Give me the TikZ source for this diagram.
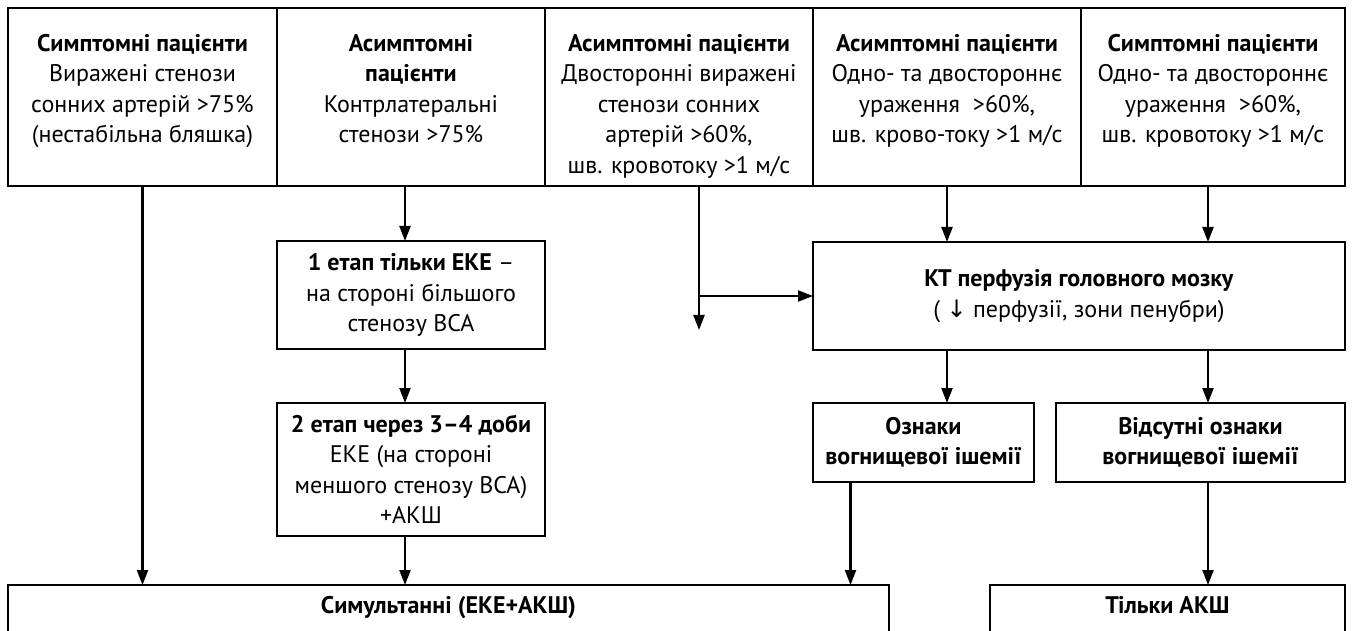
\documentclass[tikz,border=0pt]{standalone}
\usepackage{fontspec}
\setmainfont{PT Sans}
\newfontfamily\arrowfont{DejaVu Sans}
\usetikzlibrary{positioning,arrows.meta}

\tikzset{
  box/.style={draw, line width=2.4pt, outer sep=0pt, inner sep=0pt, anchor=north west},
  txt/.style={align=center, inner sep=0pt, font=\fontsize{24}{30.5}\selectfont},
  arr/.style={-{Triangle[length=15pt,width=11pt]}, line width=2.2pt},
}

\begin{document}
\begin{tikzpicture}[x=1pt,y=1pt]
\path[use as bounding box, clip] (0,0) rectangle (1353,-631);

% top row
\node[box, minimum width=269pt, minimum height=178pt] (t1) at (8,-8) {};
\node[box, minimum width=268pt, minimum height=178pt, right=0pt of t1] (t2) {};
\node[box, minimum width=268pt, minimum height=178pt, right=0pt of t2] (t3) {};
\node[box, minimum width=268pt, minimum height=178pt, right=0pt of t3] (t4) {};
\node[box, minimum width=264pt, minimum height=178pt, right=0pt of t4] (t5) {};

\node[txt, below=26pt of t1.north] (t1txt) {\textbf{Симптомні пацієнти}\\Виражені стенози\\сонних артерій >75\%\\(нестабільна бляшка)};
\node[txt, below=26pt of t2.north] (t2txt) {\textbf{Асимптомні}\\\textbf{пацієнти}\\Контрлатеральні\\стенози >75\%};
\node[txt, below=26pt of t3.north] (t3txt) {\textbf{Асимптомні пацієнти}\\Двосторонні виражені\\стенози сонних\\артерій >60\%,\\шв. кровотоку >1 м/с};
\node[txt, below=26pt of t4.north] (t4txt) {\textbf{Асимптомні пацієнти}\\Одно- та двостороннє\\ураження~ >60\%,\\шв. крово-току >1 м/с};
\node[txt, below=26pt of t5.north] (t5txt) {\textbf{Симптомні пацієнти}\\Одно- та двостороннє\\ураження~ >60\%,\\шв. кровотоку >1 м/с};

% middle
\node[box, txt, minimum width=268pt, minimum height=108pt, below=55pt of t2] (e1) {\textbf{1 етап тільки ЕКЕ} –\\на стороні більшого\\стенозу ВСА};
\node[box, txt, minimum width=268pt, minimum height=133pt, below=54pt of e1] (e2) {\textbf{2 етап через 3–4 доби}\\ЕКЕ (на стороні\\меншого стенозу ВСА)\\+АКШ};
\node[box, txt, minimum width=532pt, minimum height=108pt] (kt) at (813,-242) {\textbf{КТ перфузія головного мозку}\\( {\arrowfont ↓} перфузії, зони пенубри)};
\node[box, txt, minimum width=221pt, minimum height=79pt] (oz) at (813,-403) {\textbf{Ознаки}\\\textbf{вогнищевої ішемії}};
\node[box, txt, minimum width=289pt, minimum height=79pt] (vid) at (1056,-403) {\textbf{Відсутні ознаки}\\\textbf{вогнищевої ішемії}};

% bottom
\node[box, txt, minimum width=881pt, inner ysep=11pt, text depth=60pt] (sim) at (8,-585) {\textbf{Симультанні (ЕКЕ+АКШ)}};
\node[box, txt, minimum width=355pt, inner ysep=11pt, text depth=60pt] (tak) at (990,-585) {\textbf{Тільки АКШ}};

\coordinate (t3end) at ([xshift=20pt,yshift=-144pt]t3.south);

\draw[arr] (t1.south) -- (t1.south |- sim.north);
\draw[arr] ([xshift=-6pt]t2.south) -- ([xshift=-6pt]e1.north);
\draw[arr] ([xshift=-6pt]e1.south) -- ([xshift=-6pt]e2.north);
\draw[arr] ([xshift=-6pt]e2.south) -- ([xshift=-6pt]e2.south |- sim.north);
\draw[arr] ([xshift=20pt]t3.south) -- (t3end);
\draw[arr] (t3end |- kt.west) -- (kt.west);
\draw[arr] (t4.south) -- (t4.south |- kt.north);
\draw[arr] ([xshift=-5pt]t5.south) -- ([xshift=-5pt]t5.south |- kt.north);
\draw[arr] (kt.south -| t4.south) -- (oz.north -| t4.south);
\draw[arr] ([xshift=-5pt]kt.south -| t5.south) -- ([xshift=-5pt]vid.north -| t5.south);
\draw[arr] ([xshift=-73pt]oz.south) -- ([xshift=-73pt]oz.south |- sim.north);
\draw[arr] ([xshift=-5pt]vid.south -| t5.south) -- ([xshift=-5pt]tak.north -| t5.south);
\end{tikzpicture}
\end{document}
